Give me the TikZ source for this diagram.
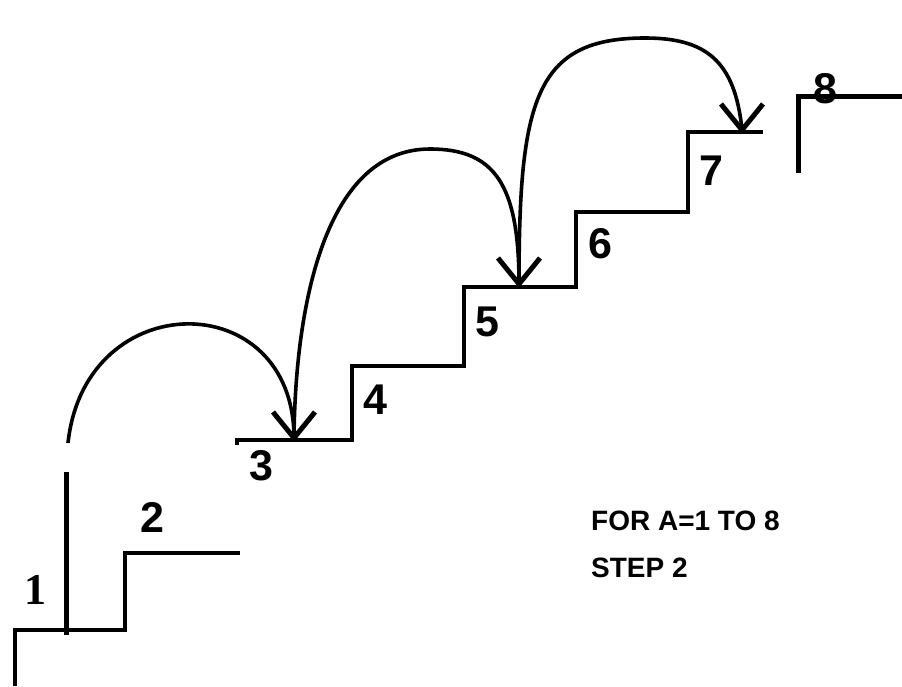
\documentclass[tikz,border=0pt]{standalone}
\usepackage{fontspec}
\setmainfont{Liberation Sans}
\newfontfamily\serifdigit{Liberation Serif}
\usetikzlibrary{calc}
\begin{document}
\begin{tikzpicture}[x=1pt,y=-1pt,line join=miter,
  stair/.style={line width=3.3pt},
  heavy/.style={line width=5pt},
  jump/.style={line width=3.6pt},
  barb/.style={line width=5pt,line join=miter},
  num/.style={font=\bfseries\fontsize{43}{43}\selectfont,inner sep=0pt},
  caption/.style={font=\bfseries\fontsize{28}{28}\selectfont,inner sep=0pt,anchor=base west}]
\useasboundingbox (0,0) rectangle (902,686);

% lower flight: steps 1 and 2
\coordinate (s1a) at (15,686);
\coordinate (s1b) at (15,630);
\coordinate (s1c) at (125,630);
\coordinate (s2a) at (125,553);
\coordinate (s2b) at (240,553);
\draw[stair] (s1a) -- (s1b) -- (s1c) -- (s2a) -- (s2b);

% post standing on step 1
\coordinate (postb) at (66,635);
\coordinate (postt) at (66,472);
\draw[heavy] (postb) -- (postt);

% upper flight: steps 3 to 7
\coordinate (s3a) at (237,445);
\coordinate (s3b) at (237,440);
\coordinate (s4a) at (352,440);
\coordinate (s4b) at (352,366);
\coordinate (s5a) at (464,366);
\coordinate (s5b) at (464,287);
\coordinate (s6a) at (576,287);
\coordinate (s6b) at (576,212);
\coordinate (s7a) at (688,212);
\coordinate (s7b) at (688,132);
\coordinate (s7c) at (763,132);
\draw[stair] (s3a) -- (s3b) -- (s4a) -- (s4b) -- (s5a) -- (s5b) -- (s6a)
  -- (s6b) -- (s7a) -- (s7b) -- (s7c);

% step 8
\coordinate (s8a) at (798,173);
\coordinate (s8b) at (798,96);
\coordinate (s8c) at (902,96);
\draw[heavy] (s8a) -- (s8b) -- (s8c);

% jump points
\coordinate (j0) at (68,443);
\coordinate (j3) at (294,438);
\coordinate (j5) at (519,284);
\coordinate (j7) at (742,130);

% jumps of two steps
\draw[jump] (j0) .. controls (85,285) and (294,285) .. (j3);
\draw[jump] (j3) .. controls (295,320) and (320,149) .. (430,149)
  .. controls (495,149) and (519,185) .. (j5);
\draw[jump] (j5) .. controls (519,100) and (535,38) .. (645,38)
  .. controls (705,38) and (735,60) .. (j7);

% open arrowheads
\foreach \t in {j3,j5,j7}
  \draw[barb] ($(\t)+(-21,-26)$) -- (\t) -- ($(\t)+(21,-26)$);

% step numbers
\node[font=\serifdigit\bfseries\fontsize{44}{44}\selectfont,inner sep=0pt] (n1) at (35,590) {1};
\node[num] (n2) at (152,517) {2};
\node[num] (n3) at (261,466) {3};
\node[num] (n4) at (375,400) {4};
\node[num] (n5) at (487,322) {5};
\node[num] (n6) at (600,244) {6};
\node[num] (n7) at (711,171) {7};
\node[num] (n8) at (825,89) {8};

% loop statement
\node[caption] (loop1) at (591,530) {FOR A=1 TO 8};
\node[caption] (loop2) at (591,577) {STEP 2};
\end{tikzpicture}
\end{document}
